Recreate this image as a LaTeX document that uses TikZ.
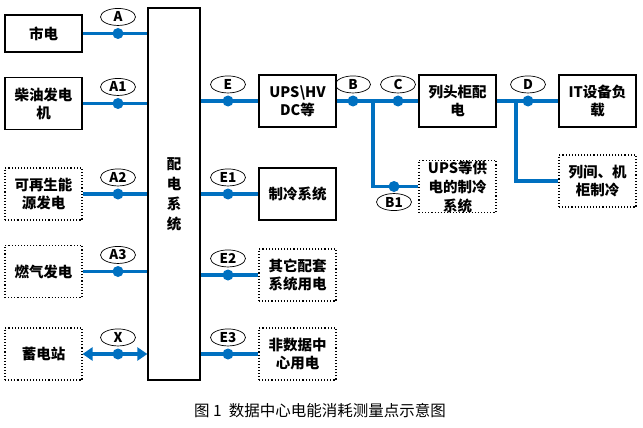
\documentclass[tikz,border=0pt]{standalone}
\usepackage{fontspec}
\setmainfont{Noto Sans CJK SC}
\usetikzlibrary{arrows.meta, positioning, shapes.geometric}
\definecolor{feedblue}{RGB}{0,112,192}

\tikzset{
  unit/.style={draw, line width=1.3pt, minimum width=77pt, minimum height=52pt, inner sep=1pt,
    align=center, font=\bfseries\fontsize{14.5}{18}\selectfont},
  optunit/.style={unit, line width=1.1pt, dotted},
  feed/.style={draw=feedblue, line width=3.2pt},
  tap/.style={circle, fill=feedblue, inner sep=0pt, minimum size=11pt},
  tag/.style={ellipse, draw, line width=0.7pt, minimum width=35pt, minimum height=17pt, inner sep=0pt,
    font=\bfseries\fontsize{13.5}{14}\selectfont},
}

\begin{document}
\begin{tikzpicture}[x=1pt, y=-1pt]
    \useasboundingbox (0,0) rectangle (643,428);

    % sources
    \node[unit, minimum height=37pt] (sd) at (43.5,33.5) {市电};
    \node[unit] (cy) at (43.5,103.5) {柴油发电\\机};
    \node[optunit] (kzs) at (43.5,194) {可再生能\\源发电};
    \node[optunit] (rq) at (43.5,271.5) {燃气发电};
    \node[optunit] (xd) at (43.5,354) {蓄电站};

    % distribution
    \node[unit, minimum width=52pt, minimum height=372pt, font=\bfseries\fontsize{14.5}{20}\selectfont]
        (pd) at (174,194) {配\\电\\系\\统};

    % loads
    \node[unit] (ups) at (297.5,101) {UPS\textbackslash HV\\DC等};
    \node[unit] (zl) at (297.5,194) {制冷系统};
    \node[optunit] (qt) at (297.5,275) {其它配套\\系统用电};
    \node[optunit] (fsj) at (297.5,354) {非数据中\\心用电};
    \node[unit] (ltg) at (457.5,101) {列头柜配\\电};
    \node[optunit, inner ysep=-4pt, font=\bfseries\fontsize{14.5}{19}\selectfont] (upsl) at (457.5,186.5) {UPS等供\\电的制冷\\系统};
    \node[unit] (it) at (597.5,101) {IT设备负\\载};
    \node[optunit] (ljg) at (597.5,181) {列间、机\\柜制冷};

    % feeds into distribution
    \draw[feed] (sd.east) -- (sd.east -| pd.west);
    \draw[feed] (cy.east) -- (cy.east -| pd.west);
    \draw[feed] (kzs.east) -- (kzs.east -| pd.west);
    \draw[feed] (rq.east) -- (rq.east -| pd.west);
    \draw[feed, {Triangle[length=10pt,width=13pt]}-{Triangle[length=10pt,width=13pt]}]
        (xd.east) -- (xd.east -| pd.west);

    % feeds out of distribution
    \draw[feed] (ups.west -| pd.east) -- (ups.west);
    \draw[feed] (zl.west -| pd.east) -- (zl.west);
    \draw[feed] (qt.west -| pd.east) -- (qt.west);
    \draw[feed] (fsj.west -| pd.east) -- (fsj.west);

    \draw[feed] (ups.east) -- (ltg.west);
    \coordinate (jb) at (373,101);
    \draw[feed] (jb) |- (upsl.west);
    \draw[feed] (ltg.east) -- (it.west);
    \coordinate (jd) at (516,101);
    \draw[feed] (jd) |- (ljg.west);

    % metering points
    \node[tap] (ta) at (118,33.5) {};
    \node[tap] (ta1) at (118,103.5) {};
    \node[tap] (ta2) at (118,194) {};
    \node[tap] (ta3) at (118,271.5) {};
    \node[tap] (tx) at (118,354) {};
    \node[tap] (te) at (228,101) {};
    \node[tap] (te1) at (228,194) {};
    \node[tap] (te2) at (228,275) {};
    \node[tap] (te3) at (228,354) {};
    \node[tap] (tb) at (353,101) {};
    \node[tap] (tc) at (398,101) {};
    \node[tap] (tb1) at (394,186.5) {};
    \node[tap] (td) at (528,101) {};

    \node[tag, above=2pt of ta] {A};
    \node[tag, above=2pt of ta1] {A1};
    \node[tag, above=2pt of ta2] {A2};
    \node[tag, above=2pt of ta3] {A3};
    \node[tag, above=2pt of tx] {X};
    \node[tag, above=2pt of te] {E};
    \node[tag, above=2pt of te1] {E1};
    \node[tag, above=2pt of te2] {E2};
    \node[tag, above=2pt of te3] {E3};
    \node[tag, above=2pt of tb] {B};
    \node[tag, above=2pt of tc] {C};
    \node[tag, below=1pt of tb1] {B1};
    \node[tag, above=2pt of td] {D};

    \node[font=\fontsize{15.5}{18}\selectfont] (cap) at (320,411) {图 1\ \ 数据中心电能消耗测量点示意图};
\end{tikzpicture}
\end{document}
